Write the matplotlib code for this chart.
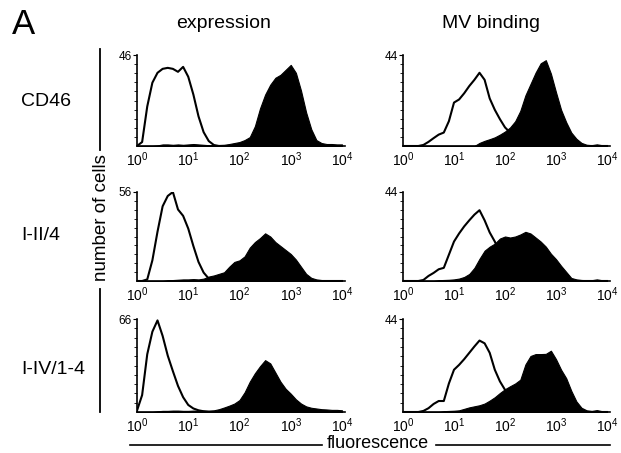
import numpy as np
import matplotlib
matplotlib.use("Agg")
import matplotlib.pyplot as plt
from matplotlib.lines import Line2D
from matplotlib.ticker import FixedLocator, FixedFormatter, NullFormatter

plt.rcParams['font.family'] = ['Liberation Sans', 'DejaVu Sans']
plt.rcParams['mathtext.fontset'] = 'custom'
plt.rcParams['mathtext.rm'] = 'Liberation Sans'
plt.rcParams['mathtext.it'] = 'Liberation Sans'

# -----------------------------
# Data: histogram heights,
# sampled every 0.1 decade from 10^0 to 10^4
# -----------------------------
log_fl = np.round(np.arange(0, 4.01, 0.1), 2)

rows = ["CD46", "I-II/4", "I-IV/1-4"]
columns = ["expression", "MV binding"]
ymax = [[46, 44], [56, 44], [66, 44]]

# CD46
cd46_expr_ctrl = [0, 2, 20, 32, 37, 39, 39.5, 39, 37.5, 40, 35, 26, 15, 7, 2.5, 0.5,
                  0, 0, 0, 0, 0, 0, 0, 0, 0, 0, 0, 0, 0, 0, 0, 0, 0, 0, 0, 0, 0, 0, 0, 0, 0]
cd46_expr = [0, 0, 0, 0, 0.3, 0.8, 0.8, 0.6, 0.8, 0.6, 0.8, 1, 0.8, 0.6, 0.4, 0.4,
             0.5, 0.6, 1, 1.5, 2, 3, 4.5, 10, 19, 26, 31, 34.5, 36, 38.5, 41, 37, 28,
             17, 8.5, 3, 1.5, 1, 1, 0.8, 0.8]
cd46_mv_ctrl = [0, 0, 0, 0, 0.5, 2, 3.8, 5.5, 6.5, 12, 21, 22.5, 25.5, 29, 32, 35.4,
                32, 23, 17.5, 13, 9, 6.5, 4, 2, 1, 0.5, 0, 0, 0, 0, 0, 0, 0, 0, 0, 0,
                0, 0, 0, 0, 0]
cd46_mv = [0, 0, 0, 0, 0, 0, 0, 0, 0, 0, 0, 0, 0, 0, 0, 1.5, 2.5, 3.3, 4.2, 5.5, 7,
           9, 12, 17, 24.5, 30, 35.5, 40, 41.5, 35, 26, 17.5, 11.5, 6.5, 3.5, 1.5,
           0.6, 0.4, 0.8, 0.4, 0.3]

# I-II/4
i2_expr_ctrl = [0, 0, 1, 13, 31, 47, 53.5, 56, 45, 41, 33, 22, 12, 5.3, 1.5, 0.5,
                0, 0, 0, 0, 0, 0, 0, 0, 0, 0, 0, 0, 0, 0, 0, 0, 0, 0, 0, 0, 0, 0, 0, 0, 0]
i2_expr = [0, 0, 0, 0, 0, 0, 0.5, 0.6, 0.8, 1, 1, 1.2, 1, 1.5, 2.8, 3.5, 4.5, 5.5, 9,
           12, 13, 15.5, 21, 24.5, 27, 30, 28, 24.5, 22, 19.5, 17, 13.5, 9, 4.5, 2,
           1, 0.6, 0.4, 0.3, 0.3, 0.3]
i2_mv_ctrl = [0, 0, 0, 0, 0.5, 2.5, 4, 5.8, 6.5, 13, 19.5, 23.5, 27, 30, 32.8, 35,
              30, 24, 19.5, 14, 8, 4, 2, 1, 0.3, 0, 0, 0, 0, 0, 0, 0, 0, 0, 0, 0, 0,
              0, 0, 0, 0]
i2_mv = [0, 0, 0, 0, 0, 0, 0, 0.4, 0.5, 0.6, 0.8, 1.2, 2, 3.5, 6.5, 11, 15, 17, 18.5,
         21, 22, 21.5, 22, 23, 24.3, 23.5, 21.5, 19.5, 17, 13.5, 10.8, 7.5, 4.5, 1.5,
         0.8, 0.5, 0.4, 0.4, 0.8, 0.4, 0.3]

# I-IV/1-4
i4_expr_ctrl = [1, 12, 41, 57, 65, 54, 40, 29, 18.5, 10.5, 5, 2.5, 1.2, 0.5, 0, 0, 0,
                0, 0, 0, 0, 0, 0, 0, 0, 0, 0, 0, 0, 0, 0, 0, 0, 0, 0, 0, 0, 0, 0, 0, 0]
i4_expr = [0, 0, 0, 0, 0.5, 0.8, 0.8, 1, 1, 0.8, 0.8, 1, 1, 1, 1, 1.2, 2, 3.2, 4.5,
           6, 8.5, 14, 21.5, 27.5, 32.5, 36.8, 34.5, 28, 21.5, 16.5, 13, 9, 6, 4, 3,
           2.5, 2, 1.8, 1.5, 1.5, 1.2]
i4_mv_ctrl = [0, 0, 0, 0, 0.5, 1.8, 3.8, 5.2, 5.2, 13.5, 20, 22.3, 25, 28, 31, 33.8,
              32.5, 28, 20, 14.5, 10.5, 6, 3, 1.2, 0.4, 0, 0, 0, 0, 0, 0, 0, 0, 0, 0,
              0, 0, 0, 0, 0, 0]
i4_mv = [0, 0, 0, 0, 0, 0, 0, 0, 0.4, 0.5, 0.6, 0.8, 1.5, 2.2, 2.7, 3.2, 4, 5.4, 7, 9,
         10.8, 12.2, 13.5, 15.3, 22.5, 26.5, 27.4, 27.4, 27.5, 29, 25, 20, 16, 10, 5,
         2, 0.8, 0.5, 0.9, 0.4, 0.3]

open_hist = [[cd46_expr_ctrl, cd46_mv_ctrl], [i2_expr_ctrl, i2_mv_ctrl], [i4_expr_ctrl, i4_mv_ctrl]]
filled_hist = [[cd46_expr, cd46_mv], [i2_expr, i2_mv], [i4_expr, i4_mv]]

# -----------------------------
# Figure layout (pixel positions)
# -----------------------------
W, H = 621, 453
fig = plt.figure(figsize=(W / 100, H / 100), dpi=100)

col_left = [137, 403]
col_decade = [51.25, 51.0]
row_top = [55, 192, 319]
row_base = [146, 281, 412]
xhi = 4.06

fl = 10 ** log_fl

for r in range(3):
    for c in range(2):
        left = col_left[c]
        right = left + xhi * col_decade[c]
        ax = fig.add_axes([left / W, 1 - row_base[r] / H,
                           (right - left) / W, (row_base[r] - row_top[r]) / H])
        ax.set_xscale('log')
        ax.set_xlim(1, 10 ** xhi)
        ax.set_ylim(0, ymax[r][c])

        # open (control) histogram then the filled one on top
        ax.plot(fl, open_hist[r][c], color='black', lw=1.5, zorder=2)
        ax.fill_between(fl, 0, filled_hist[r][c], color='black', lw=0.8, zorder=3)

        for s in ['top', 'right']:
            ax.spines[s].set_visible(False)
        ax.spines['left'].set_linewidth(1.2)
        ax.spines['bottom'].set_linewidth(1.2)

        ax.xaxis.set_major_locator(FixedLocator([1, 10, 100, 1000, 10000]))
        ax.xaxis.set_major_formatter(FixedFormatter(['$10^{%d}$' % k for k in range(5)]))
        ax.xaxis.set_minor_formatter(NullFormatter())
        ax.xaxis.set_minor_locator(FixedLocator([]))
        ax.tick_params(axis='x', length=0, pad=3, labelsize=10)

        ax.yaxis.set_major_locator(FixedLocator([ymax[r][c]]))
        ax.yaxis.set_major_formatter(FixedFormatter([str(ymax[r][c])]))
        ax.yaxis.set_minor_locator(FixedLocator(np.linspace(0, ymax[r][c], 11)[1:-1]))
        ax.tick_params(axis='y', which='major', length=3, width=0.8, pad=1, labelsize=8.5)
        ax.tick_params(axis='y', which='minor', length=2, width=0.6)
        ax.patch.set_alpha(0)

# -----------------------------
# Labels and decorations
# -----------------------------
fig.text(12 / W, 1 - 24 / H, "A", fontsize=25, ha='left', va='center')
fig.text(224 / W, 1 - 24 / H, columns[0], fontsize=14, ha='center', va='center')
fig.text(491 / W, 1 - 23 / H, columns[1], fontsize=14, ha='center', va='center')

row_y = [102, 235, 370]
for r in range(3):
    fig.text(21 / W, 1 - row_y[r] / H, rows[r], fontsize=14, ha='left', va='center')

fig.text(101 / W, 1 - 218 / H, "number of cells", fontsize=13.5, rotation=90,
         ha='center', va='center')
fig.add_artist(Line2D([100 / W, 100 / W], [1 - 49 / H, 1 - 150 / H], color='black', lw=1.3))
fig.add_artist(Line2D([100 / W, 100 / W], [1 - 289 / H, 1 - 412 / H], color='black', lw=1.3))

fig.text(378 / W, 1 - 444 / H, "fluorescence", fontsize=13, ha='center', va='center')
fig.add_artist(Line2D([130 / W, 322 / W], [1 - 445 / H, 1 - 445 / H], color='black', lw=1.2))
fig.add_artist(Line2D([436 / W, 610 / W], [1 - 445 / H, 1 - 445 / H], color='black', lw=1.2))

fig.savefig("out.png", dpi=100)
